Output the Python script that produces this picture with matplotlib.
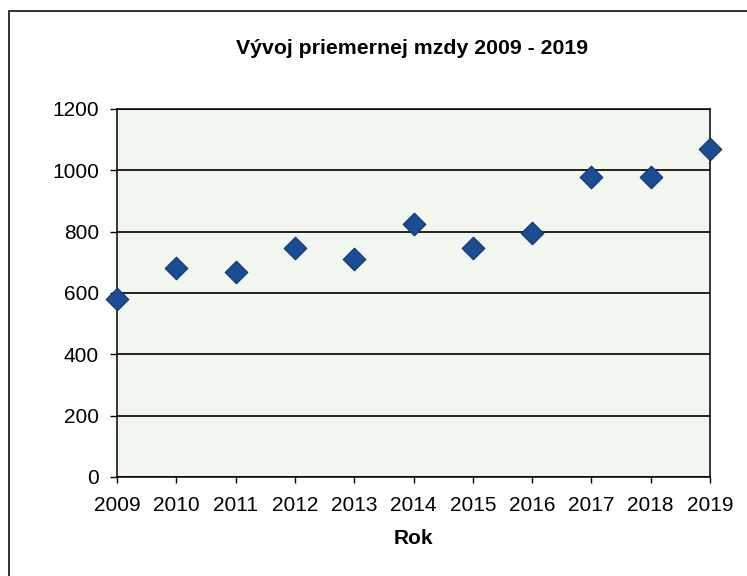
import matplotlib
matplotlib.use("Agg")
import matplotlib.pyplot as plt
from matplotlib.patches import Rectangle

years = [2009, 2010, 2011, 2012, 2013, 2014, 2015, 2016, 2017, 2018, 2019]
wages = [582, 680, 667, 746, 711, 825, 747, 795, 978, 978, 1070]
yticks = [0, 200, 400, 600, 800, 1000, 1200]
title = "Vývoj priemernej mzdy 2009 - 2019"
xlabel = "Rok"

plt.rcParams['font.family'] = ['Liberation Sans', 'DejaVu Sans']

fig = plt.figure(figsize=(7.47, 5.76), dpi=100)
fig.patch.set_facecolor('white')

# outer chart border (scan shows left and top edges)
fig.add_artist(Rectangle((9 / 747, -0.05), 1.2, 1 - 11 / 576 + 0.05,
                         transform=fig.transFigure, fill=False,
                         edgecolor='#222222', linewidth=1.3))

ax = fig.add_axes([117 / 747, 1 - 477 / 576, (710 - 117) / 747, (477 - 109) / 576])
ax.set_facecolor('#f1f6ee')

ax.scatter(years, wages, marker='D', s=11.5 ** 2, color='#1a4e94',
           edgecolors='#15306b', linewidths=0.8, zorder=5, clip_on=False)

ax.set_xlim(years[0], years[-1])
ax.set_ylim(yticks[0], yticks[-1])
ax.set_yticks(yticks)
ax.set_xticks(years)
ax.set_xticklabels([str(y) for y in years])

ax.yaxis.grid(True, color='black', linewidth=1.2)
ax.set_axisbelow(True)
for s in ax.spines.values():
    s.set_color('black')
    s.set_linewidth(1.1)

ax.tick_params(axis='y', direction='out', length=5, width=1, pad=8, labelsize=15)
ax.tick_params(axis='x', direction='out', length=4, width=1, pad=10, labelsize=15)

ax.set_xlabel(xlabel, fontsize=15, fontweight='bold', labelpad=10)
fig.text(412 / 747, 1 - 48 / 576, title, ha='center', va='center',
         fontsize=15.3, fontweight='bold')

fig.savefig("out.png", dpi=100)
